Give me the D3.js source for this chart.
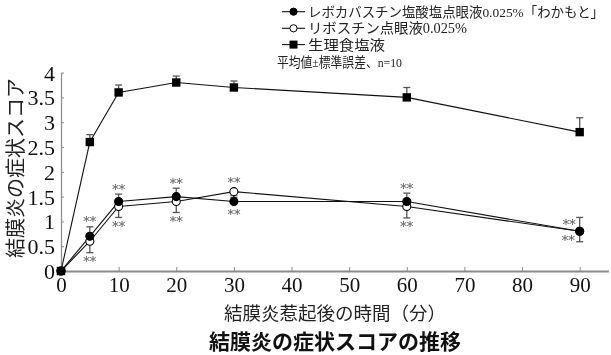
<!DOCTYPE html>
<html><head><meta charset="utf-8">
<script src="https://cdn.jsdelivr.net/npm/d3@7"></script>
<style>
html,body{margin:0;padding:0;background:#fff;}
svg{display:block;will-change:transform;}
</style></head>
<body>
<svg id="c" width="611" height="355"></svg>
<script>
const times = [0, 5, 10, 20, 30, 60, 90];
const levoValues = [0, 0.7, 1.4, 1.5, 1.4, 1.4, 0.8];
const levoSem    = [0, 0.19, 0.15, 0.17, 0.12, 0.17, 0.28];
const ribValues  = [0, 0.6, 1.3, 1.4, 1.6, 1.3, 0.8];
const ribSem     = [0, 0.23, 0.22, 0.22, 0.12, 0.23, 0.21];
const salValues  = [0, 2.6, 3.6, 3.8, 3.7, 3.5, 2.8];
const salSem     = [0, 0.15, 0.15, 0.13, 0.13, 0.2, 0.29];
const sigMarks   = ["", "**", "**", "**", "**", "**", "**"];
const xTicks = [0, 10, 20, 30, 40, 50, 60, 70, 80, 90];
const yTicks = [0, 0.5, 1, 1.5, 2, 2.5, 3, 3.5, 4];
const seriesNames = ["レボカバスチン塩酸塩点眼液0.025%「わかもと」", "リボスチン点眼液0.025%", "生理食塩液"];
const noteText = "平均値±標準誤差、n=10";
const yLabel = "結膜炎の症状スコア";
const xLabel = "結膜炎惹起後の時間（分）";
const titleText = "結膜炎の症状スコアの推移";

const FONT = "'Liberation Serif','Noto Sans CJK JP',serif";
const svg = d3.select("#c");
const x = d3.scaleLinear().domain([0, 95]).range([61, 608.5]);
const y = d3.scaleLinear().domain([0, 4]).range([271, 72.6]);

// axes
const xAxis = svg.append("g").attr("transform", `translate(0,${y(0)})`)
  .call(d3.axisBottom(x).tickValues(xTicks).tickSizeInner(-4).tickSizeOuter(0).tickPadding(8));
xAxis.select(".domain").attr("stroke", "#8a8a8a").attr("stroke-width", 2);
xAxis.selectAll(".tick line").attr("stroke", "#8a8a8a").attr("stroke-width", 1);
xAxis.selectAll(".tick text").attr("font-family", FONT).attr("font-size", 21).attr("fill", "#111").attr("dy", "0.62em");

const yAxis = svg.append("g").attr("transform", `translate(${x(0)},0)`)
  .call(d3.axisLeft(y).tickValues(yTicks).tickFormat(d3.format("")).tickSizeInner(-3).tickSizeOuter(0).tickPadding(6));
yAxis.select(".domain").attr("stroke", "#8a8a8a").attr("stroke-width", 1.2);
yAxis.selectAll(".tick line").attr("stroke", "#8a8a8a");
yAxis.selectAll(".tick text").attr("font-family", FONT).attr("font-size", 22).attr("fill", "#111").attr("dy", "0.34em");

// labels
svg.append("text").attr("transform", `translate(23,168) rotate(-90)`)
  .attr("text-anchor", "middle").attr("font-family", FONT).attr("font-size", 20).attr("fill", "#222").text(yLabel);
svg.append("text").attr("x", 335).attr("y", 320).attr("text-anchor", "middle")
  .attr("font-family", FONT).attr("font-size", 18.5).attr("fill", "#222").text(xLabel);
svg.append("text").attr("x", 335).attr("y", 349).attr("text-anchor", "middle")
  .attr("font-family", FONT).attr("font-size", 21).attr("font-weight", "bold").attr("fill", "#111").text(titleText);

const series = [
  {vals: levoValues, sem: levoSem, dir: -1, shape: "circle", fill: "#000"},
  {vals: ribValues, sem: ribSem, dir: 1, shape: "circle", fill: "#fff"},
  {vals: salValues, sem: salSem, dir: -1, shape: "square", fill: "#000"}
];
const line = d3.line().x(d => x(d.t)).y(d => y(d.v));
const R = 4;

// error bars first
series.forEach(s => {
  const pts = times.map((t, i) => ({t, v: s.vals[i], e: s.sem[i]})).filter(d => d.e > 0);
  const g = svg.append("g").attr("stroke", "#555").attr("stroke-width", 1.3);
  pts.forEach(d => {
    const y0 = y(d.v), y1 = y(d.v - s.dir * d.e);
    g.append("line").attr("x1", x(d.t)).attr("x2", x(d.t)).attr("y1", y0).attr("y2", y1);
    g.append("line").attr("x1", x(d.t) - 3.5).attr("x2", x(d.t) + 3.5).attr("y1", y1).attr("y2", y1);
  });
});
// lines
series.forEach(s => {
  const pts = times.map((t, i) => ({t, v: s.vals[i]}));
  svg.append("path").datum(pts).attr("d", line).attr("fill", "none").attr("stroke", "#111").attr("stroke-width", 1.1);
});
// markers
[series[1], series[0], series[2]].forEach(s => {
  times.forEach((t, i) => {
    if (s.shape === "circle") {
      svg.append("circle").attr("cx", x(t)).attr("cy", y(s.vals[i])).attr("r", R)
        .attr("fill", s.fill).attr("stroke", "#000").attr("stroke-width", 1.1);
    } else {
      svg.append("rect").attr("x", x(t) - 4.2).attr("y", y(s.vals[i]) - 4.2).attr("width", 8.4).attr("height", 8.4).attr("fill", "#000");
    }
  });
});

// significance marks
const AF = 13;
const sigG = svg.append("g");
function sigText(xx, yy, anchor, txt) {
  sigG.append("text").attr("x", xx).attr("y", yy).attr("text-anchor", anchor)
    .attr("font-family", "'DejaVu Serif',serif").attr("font-size", AF).attr("fill", "#555").text(txt);
}
times.forEach((t, i) => {
  if (!sigMarks[i]) return;
  const a = series[0], b = series[1];
  const ends = [a, b].map(s => {
    const yc = y(s.vals[i]);
    const ye = y(s.vals[i] - s.dir * s.sem[i]);
    return {top: Math.min(yc - R, ye), bot: Math.max(yc + R, ye)};
  });
  const up = Math.min(...ends.map(e => e.top));
  const lo = Math.max(...ends.map(e => e.bot));
  if (a.vals[i] === b.vals[i] && i === times.length - 1) {
    const yc = y(a.vals[i]);
    sigText(x(t) - 4, yc - 8.5 + 6, "end", sigMarks[i]);
    sigText(x(t) - 5, yc + 8 + 6, "end", sigMarks[i]);
  } else {
    sigText(x(t), up - 6.5 + 6, "middle", sigMarks[i]);
    sigText(x(t), lo + 7.5 + 6, "middle", sigMarks[i]);
  }
});

// legend
const legY = [11.7, 28.3, 44.6];
const legW = [296, 159, 77];
const legF = [13.5, 14, 14];
series.forEach((s, i) => {
  const g = svg.append("g").attr("transform", `translate(0,${legY[i]})`);
  g.append("line").attr("x1", 282).attr("x2", 305).attr("y1", 0).attr("y2", 0).attr("stroke", "#111").attr("stroke-width", 1.1);
  if (s.shape === "circle") {
    g.append("circle").attr("cx", 293.5).attr("cy", 0).attr("r", 3.6).attr("fill", s.fill).attr("stroke", "#000");
  } else {
    g.append("rect").attr("x", 289.5).attr("y", -4).attr("width", 8).attr("height", 8).attr("fill", "#000");
  }
  g.append("text").attr("x", 308).attr("y", 0).attr("dy", "0.36em").attr("font-family", FONT).attr("font-size", legF[i])
    .attr("textLength", legW[i]).attr("lengthAdjust", "spacingAndGlyphs").attr("fill", "#222").text(seriesNames[i]);
});
svg.append("text").attr("x", 277).attr("y", 62).attr("dy", "0.36em").attr("font-family", FONT).attr("font-size", 13.5)
  .attr("textLength", 125).attr("lengthAdjust", "spacingAndGlyphs").attr("fill", "#222").text(noteText);
</script>
</body></html>
